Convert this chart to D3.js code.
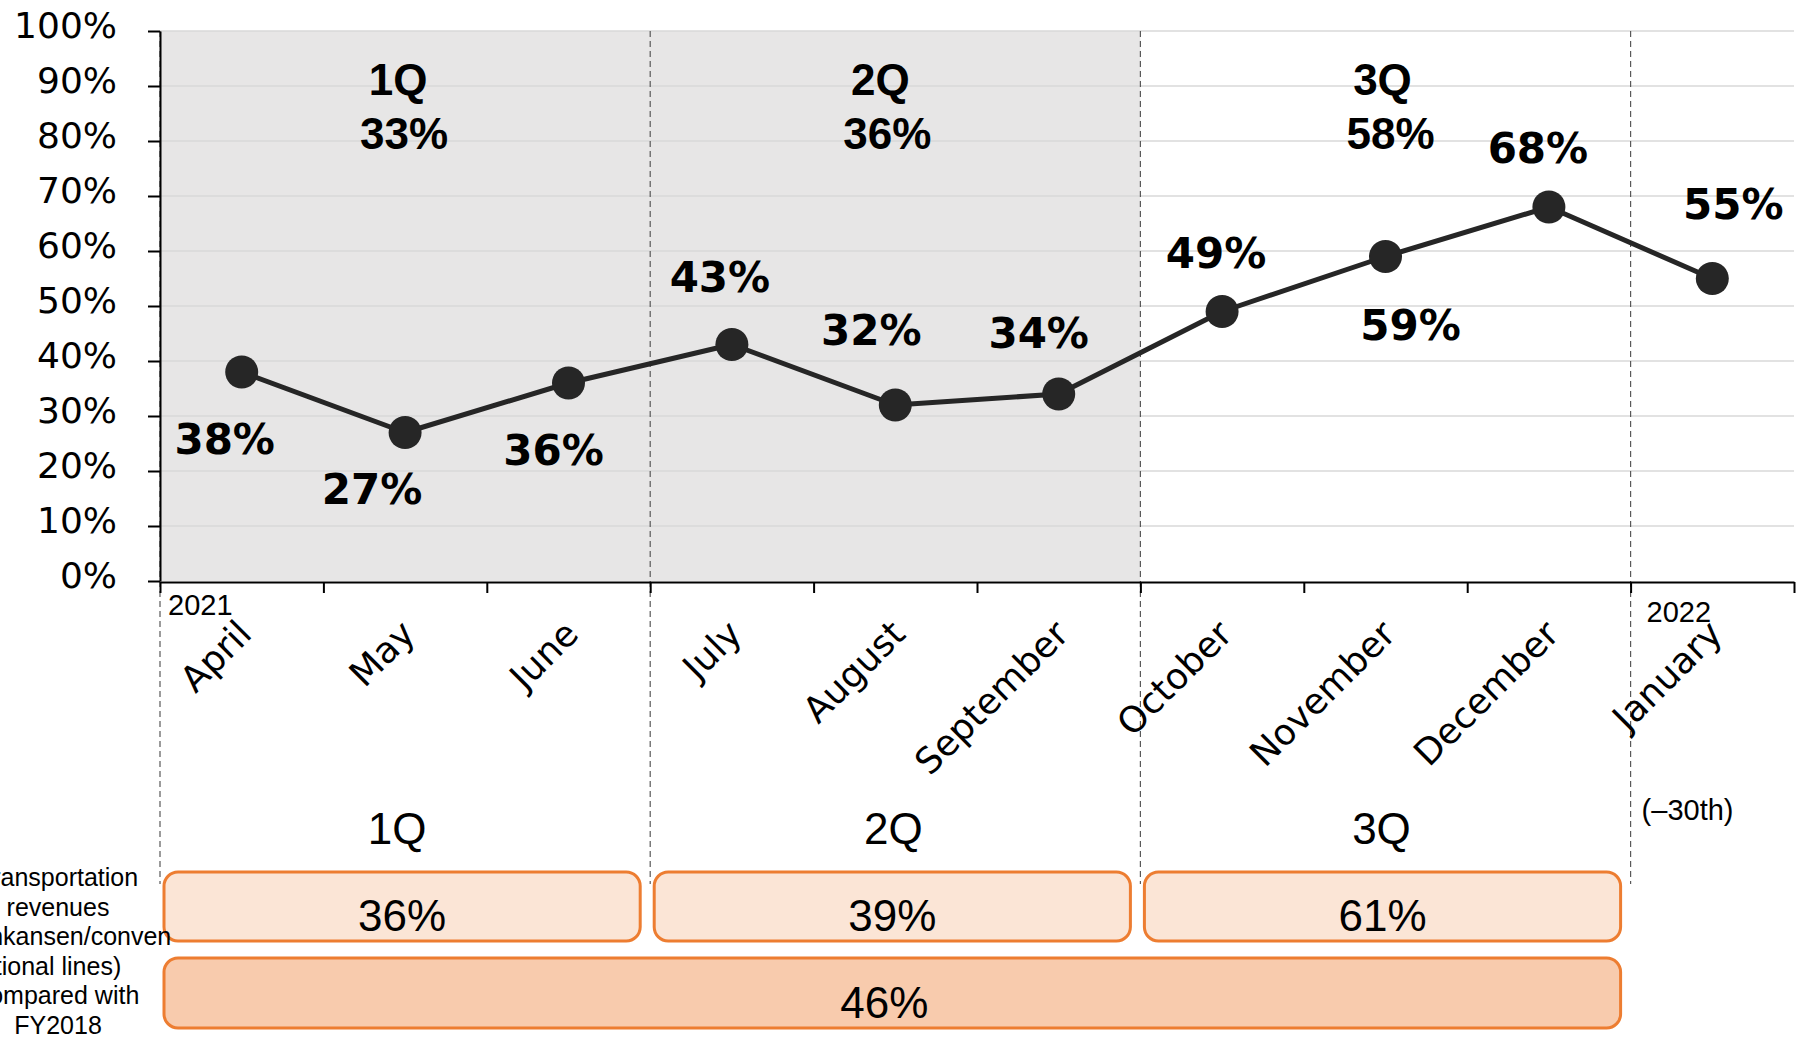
<!DOCTYPE html>
<html>
<head>
<meta charset="utf-8">
<script src="https://cdn.jsdelivr.net/npm/d3@7"></script>
<style>
html,body{margin:0;padding:0;background:#fff;overflow:hidden;}
svg{display:block;}
</style>
</head>
<body>
<svg id="chart" width="1804" height="1041"></svg>
<script>
// ---- data ----
const months = ["April","May","June","July","August","September","October","November","December","January"];
const values = [38,27,36,43,32,34,49,59,68,55];
const yTickValues = [0,10,20,30,40,50,60,70,80,90,100];
const quarters = ["1Q","2Q","3Q"];
const quarterHeaderValues = [33,36,58];
const quarterRevenue = [36,39,61];
const totalRevenue = 46;
const yearLabels = ["2021","2022"];
const yearMonthIndex = [0,9];
const noteText = "(\u201330th)";
const sideLabelLines = ["Transportation","revenues","(Shinkansen/conven","tional lines)","compared with","FY2018"];

// ---- layout (not data) ----
const labelDx = [-17,-33,-15,-12,-24,-20,-6,25,-11,21];
const labelDy = [82,71,82,-53,-60,-46,-44,83,-44,-60];
const qHeadDx = [-7,-15,-3];
const qValDx = [-1,-8,5];
const qBottomDx = [-8,-2,-4];

const svg = d3.select("#chart");
const x = d3.scaleLinear().domain([0, months.length]).range([160, 1794]);
const y = d3.scaleLinear().domain([0, 100]).range([581, 31]);
const bw = x(1) - x(0);

// shaded area for 1Q & 2Q
svg.append("rect")
  .attr("x", x(0)).attr("y", y(100))
  .attr("width", x(6) - x(0)).attr("height", y(0) - y(100))
  .attr("fill", "#e7e6e6");

// gridlines
svg.append("g").selectAll("line").data(yTickValues.filter(d => d > 0)).join("line")
  .attr("x1", x(0)).attr("x2", x(10))
  .attr("y1", d => y(d)).attr("y2", d => y(d))
  .attr("stroke", "#d9d9d9").attr("stroke-width", 1.5);

// dashed quarter separators
svg.append("g").selectAll("line").data([0,3,6,9]).join("line")
  .attr("x1", d => x(d)).attr("x2", d => x(d))
  .attr("y1", y(100)).attr("y2", 884)
  .attr("stroke", "#595959").attr("stroke-width", 1.2)
  .attr("stroke-dasharray", "6,4");

// y axis
const yAxis = svg.append("g").attr("transform", `translate(${x(0)},0)`)
  .call(d3.axisLeft(y).tickValues(yTickValues).tickFormat(d => d + "%")
        .tickSize(12).tickSizeOuter(0).tickPadding(31));
yAxis.select(".domain").attr("stroke", "#000").attr("stroke-width", 2);
yAxis.selectAll(".tick line").attr("stroke", "#000").attr("stroke-width", 2);
yAxis.selectAll(".tick text")
  .attr("font-family", "'DejaVu Sans', Verdana, sans-serif")
  .attr("font-size", 36).attr("fill", "#000").attr("dy", "0.18em");

// x axis
const xAxis = svg.append("g").attr("transform", `translate(0,${y(0) + 1})`)
  .call(d3.axisBottom(x).tickValues(d3.range(0, 11)).tickFormat("")
        .tickSize(11).tickSizeOuter(0));
xAxis.select(".domain").attr("stroke", "#000").attr("stroke-width", 2);
xAxis.selectAll(".tick line").attr("stroke", "#000").attr("stroke-width", 2);

// month labels
svg.append("g").selectAll("text").data(months).join("text")
  .attr("transform", (d, i) => `translate(${x(i + 0.5) + 12},636) rotate(-45)`)
  .attr("text-anchor", "end")
  .attr("font-family", "'DejaVu Sans', Verdana, sans-serif")
  .attr("font-size", 36).attr("fill", "#000")
  .text(d => d);

// year labels
svg.append("g").selectAll("text").data(yearLabels).join("text")
  .attr("x", (d, i) => x(yearMonthIndex[i]) + (i === 0 ? 8 : 16))
  .attr("y", (d, i) => i === 0 ? 615 : 622)
  .attr("font-family", "'Liberation Sans', Arial, sans-serif")
  .attr("font-size", 29).attr("fill", "#000")
  .text(d => d);

// line + markers
const line = d3.line().x((d, i) => x(i + 0.5)).y(d => y(d));
svg.append("path").datum(values)
  .attr("d", line).attr("fill", "none")
  .attr("stroke", "#262626").attr("stroke-width", 5).attr("stroke-linejoin", "round");
svg.append("g").selectAll("circle").data(values).join("circle")
  .attr("cx", (d, i) => x(i + 0.5)).attr("cy", d => y(d)).attr("r", 16.5)
  .attr("fill", "#262626");

// data labels
svg.append("g").selectAll("text").data(values).join("text")
  .attr("x", (d, i) => x(i + 0.5) + labelDx[i])
  .attr("y", (d, i) => y(d) + labelDy[i])
  .attr("text-anchor", "middle")
  .attr("font-family", "'DejaVu Sans', Verdana, sans-serif")
  .attr("font-weight", "bold").attr("font-size", 42).attr("fill", "#000")
  .text(d => d + "%");

// quarter headers inside plot
const qHead = svg.append("g");
qHead.selectAll("text.q").data(quarters).join("text").attr("class", "q")
  .attr("x", (d, i) => x(i * 3 + 1.5) + qHeadDx[i]).attr("y", 95)
  .attr("text-anchor", "middle")
  .attr("font-family", "'Liberation Sans', Arial, sans-serif")
  .attr("font-weight", "bold").attr("font-size", 44).attr("fill", "#000")
  .text(d => d);
qHead.selectAll("text.v").data(quarterHeaderValues).join("text").attr("class", "v")
  .attr("x", (d, i) => x(i * 3 + 1.5) + qValDx[i]).attr("y", 149)
  .attr("text-anchor", "middle")
  .attr("font-family", "'Liberation Sans', Arial, sans-serif")
  .attr("font-weight", "bold").attr("font-size", 44).attr("fill", "#000")
  .text(d => d + "%");

// quarter labels below axis
svg.append("g").selectAll("text").data(quarters).join("text")
  .attr("x", (d, i) => x(i * 3 + 1.5) + qBottomDx[i]).attr("y", 844)
  .attr("text-anchor", "middle")
  .attr("font-family", "'Liberation Sans', Arial, sans-serif")
  .attr("font-size", 44).attr("fill", "#000")
  .text(d => d);

// note
svg.append("text")
  .attr("x", x(9) + 11).attr("y", 820)
  .attr("font-family", "'Liberation Sans', Arial, sans-serif")
  .attr("font-size", 29).attr("fill", "#000")
  .text(noteText);

// quarter revenue boxes
const qBoxes = svg.append("g");
quarterRevenue.forEach((v, i) => {
  const bx = x(i * 3) + 4, bwid = bw * 3 - 14;
  qBoxes.append("rect")
    .attr("x", bx).attr("y", 872).attr("width", bwid).attr("height", 69)
    .attr("rx", 14).attr("ry", 14)
    .attr("fill", "#fbe5d6").attr("stroke", "#ed7d31").attr("stroke-width", 3);
  qBoxes.append("text")
    .attr("x", bx + bwid / 2).attr("y", 931)
    .attr("text-anchor", "middle")
    .attr("font-family", "'Liberation Sans', Arial, sans-serif")
    .attr("font-size", 44).attr("fill", "#000")
    .text(v + "%");
});
// total box
const tx = x(0) + 4, tw = x(9) - 10 - tx;
svg.append("rect")
  .attr("x", tx).attr("y", 958).attr("width", tw).attr("height", 70)
  .attr("rx", 14).attr("ry", 14)
  .attr("fill", "#f8cbad").attr("stroke", "#ed7d31").attr("stroke-width", 3);
svg.append("text")
  .attr("x", tx + tw / 2 - 8).attr("y", 1018)
  .attr("text-anchor", "middle")
  .attr("font-family", "'Liberation Sans', Arial, sans-serif")
  .attr("font-size", 44).attr("fill", "#000")
  .text(totalRevenue + "%");

// side label (partially cut by the left edge, as in the reference)
svg.append("g").selectAll("text").data(sideLabelLines).join("text")
  .attr("x", 58).attr("y", (d, i) => 886 + i * 29.6)
  .attr("text-anchor", "middle")
  .attr("font-family", "'Liberation Sans', Arial, sans-serif")
  .attr("font-size", 25).attr("fill", "#000")
  .text(d => d);
</script>
</body>
</html>
